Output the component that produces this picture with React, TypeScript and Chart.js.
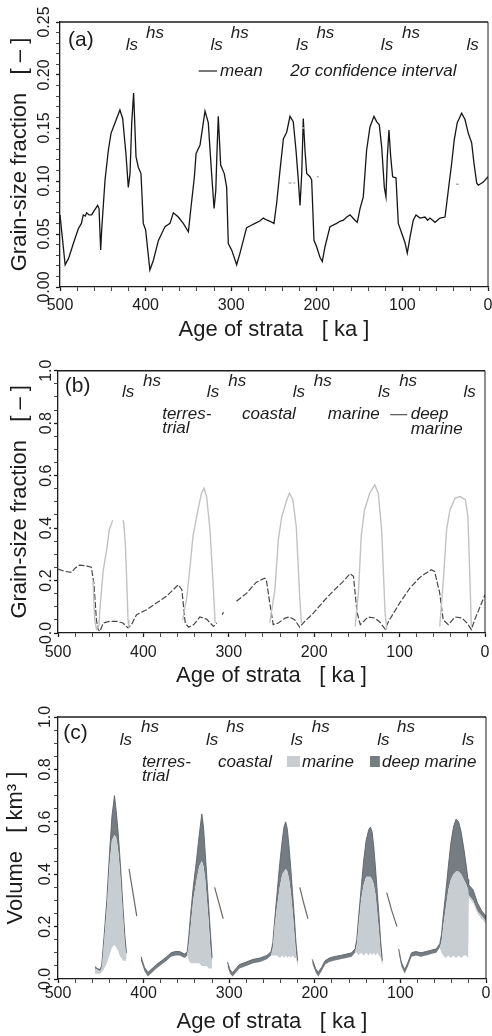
import React, { useEffect, useRef } from "react";
import { Chart, registerables } from "chart.js";

Chart.register(...registerables);

const FONT = '"Liberation Sans", Arial, Helvetica, sans-serif';
const INK = "#1c1c1c";
const LIGHT_FILL = "#c8cdd2";
const DARK_FILL = "#767d82";

// ---------------- Panel (a): grain-size fraction, mean ----------------
const aAges = [500, 494, 490, 484.4, 478.6, 475, 472.8, 470.5, 468.8, 466, 463, 460, 456, 454.4, 452.5, 451.3, 447.4, 443.5, 440.4, 435.7, 430, 426.8, 423, 420.2, 418.2, 416.2, 414, 411.2, 408.5, 405.4, 402.7, 400, 395, 391, 385, 377.3, 371.5, 367.6, 364.5, 361.8, 356, 350, 347, 343, 341, 336.4, 330.6, 326.8, 322.9, 320, 318, 316.8, 315.1, 312.3, 308.1, 305.3, 303.4, 299.5, 293.6, 289.7, 282, 277, 272.2, 267, 262.5, 258, 254.7, 250, 246.9, 243, 239, 235.2, 231.3, 227.5, 224.3, 221.6, 219.6, 217.6, 215.8, 213.8, 211.8, 208, 206, 203.3, 200.2, 196.3, 193.6, 190.4, 184.6, 176.8, 173, 169, 165, 161.2, 155.4, 152.7, 149.5, 145.7, 141.8, 137.9, 133.2, 130.1, 127, 124.2, 121.1, 119.2, 117.6, 115.7, 113.7, 111.4, 107.5, 104.8, 100.9, 97, 94.3, 91.1, 87.3, 84.1, 79.4, 73.6, 70.5, 67.8, 61.9, 56.1, 50.2, 46.4, 42.4, 39.4, 35.9, 30.8, 26.9, 23, 19.1, 16.4, 13.2, 11.3, 5.5, 0];
const aMean = [0.068, 0.021, 0.027, 0.041, 0.055, 0.06, 0.068, 0.067, 0.07, 0.068, 0.068, 0.072, 0.077, 0.074, 0.035, 0.054, 0.101, 0.129, 0.145, 0.155, 0.167, 0.159, 0.126, 0.094, 0.107, 0.155, 0.183, 0.123, 0.113, 0.107, 0.06, 0.054, 0.016, 0.025, 0.044, 0.057, 0.06, 0.07, 0.068, 0.066, 0.06, 0.052, 0.075, 0.104, 0.126, 0.134, 0.166, 0.155, 0.107, 0.074, 0.091, 0.123, 0.161, 0.115, 0.107, 0.094, 0.041, 0.035, 0.021, 0.032, 0.056, 0.058, 0.06, 0.062, 0.065, 0.063, 0.062, 0.06, 0.079, 0.11, 0.14, 0.146, 0.161, 0.156, 0.129, 0.101, 0.077, 0.107, 0.159, 0.129, 0.107, 0.104, 0.101, 0.044, 0.038, 0.028, 0.024, 0.038, 0.057, 0.06, 0.062, 0.063, 0.066, 0.068, 0.063, 0.061, 0.074, 0.085, 0.129, 0.151, 0.161, 0.156, 0.153, 0.132, 0.094, 0.085, 0.123, 0.148, 0.123, 0.104, 0.103, 0.06, 0.051, 0.042, 0.032, 0.047, 0.063, 0.068, 0.065, 0.066, 0.063, 0.065, 0.061, 0.065, 0.066, 0.091, 0.117, 0.139, 0.155, 0.164, 0.158, 0.145, 0.136, 0.117, 0.098, 0.096, 0.099, 0.104];
const aCiAges = [233, 225, 221, 217.5, 214, 210, 200, 197.5, 190, 37.4, 34];
const aCi = [0.098, 0.098, null, 0.15, 0.15, null, 0.104, 0.104, null, 0.097, 0.097];
const aLsAges = [416, 317, 217, 118, 18];
const aHsAges = [389, 290, 190, 90];

// ---------------- Panel (b): grain-size fraction per environment ----------------
const bDeepAges = [500, 492, 484, 480, 475, 467, 461, 458, 455, 453, 451, 447, 440, 430, 424, 418, 414, 408, 396, 385, 373, 361, 359, 355, 351, 347, 341, 334, 326, 318, 314, 311, 308, 306, 300, 291, 279, 268, 258, 256, 252, 248, 242, 234, 229, 223, 217, 213, 201, 189, 178, 166, 158, 154, 150, 146, 143, 137, 129, 123, 117, 113, 100, 88, 76, 63, 59, 53, 49, 43, 35, 27, 21, 16, 12, 0];
const bDeep = [0.244, 0.235, 0.231, 0.247, 0.259, 0.256, 0.251, 0.19, 0.05, 0.013, 0.006, 0.038, 0.044, 0.044, 0.038, 0.019, 0.032, 0.07, 0.089, 0.114, 0.14, 0.178, 0.184, 0.165, 0.038, 0.022, 0.032, 0.061, 0.053, 0.025, 0.038, null, 0.07, 0.079, null, 0.121, 0.152, 0.193, 0.209, 0.203, 0.114, 0.032, 0.038, 0.057, 0.061, 0.051, 0.022, 0.038, 0.076, 0.121, 0.159, 0.197, 0.226, 0.216, 0.082, 0.032, 0.041, 0.061, 0.057, 0.041, 0.015, 0.044, 0.114, 0.171, 0.213, 0.241, 0.235, 0.152, 0.051, 0.032, 0.061, 0.057, 0.038, 0.013, 0.051, 0.146];
const bMarineAges = [459, 457, 455, 452, 451, 447, 443, 440, 437, 436, 430, 424, 423, 421, 419, 418, 417, 390, 354, 349, 345, 342, 336, 332, 329, 326, 322, 318, 316, 290, 252, 246, 242, 238, 232, 229, 225, 221, 217, 215, 190, 152, 148, 145, 141, 135, 129, 125, 121, 117, 115, 90, 53, 49, 45, 41, 35, 29, 23, 20, 18, 16];
const bMarine = [0.2, 0.05, 0.015, 0.03, 0.089, 0.24, 0.317, 0.393, 0.42, 0.43, null, 0.43, 0.42, 0.33, 0.15, 0.05, 0.02, null, 0.05, 0.14, 0.266, 0.368, 0.47, 0.533, 0.552, 0.52, 0.393, 0.165, 0.038, null, 0.038, 0.165, 0.355, 0.444, 0.508, 0.533, 0.508, 0.406, 0.14, 0.038, null, 0.025, 0.165, 0.368, 0.47, 0.533, 0.565, 0.533, 0.393, 0.076, 0.013, null, 0.025, 0.19, 0.393, 0.47, 0.514, 0.52, 0.508, 0.444, 0.24, 0.025];
const bLsAges = [418, 318.5, 218, 118, 18];
const bHsAges = [390, 290, 190, 90];

// ---------------- Panel (c): volume (marine / deep marine) ----------------
const cAges = [
  457, 454, 451, 449, 446, 443, 440, 437, 434, 432, 430, 428, 426, 424, 422, 420, 412,
  403, 399, 395, 390, 385, 379, 373, 368, 363, 358, 352, 349,
  347, 345, 342, 338, 335, 332, 330, 328, 326, 324, 322, 320, 311,
  302, 299, 296, 292, 288, 280, 272, 264, 256, 251,
  249, 247, 244, 241, 238, 236, 234, 232, 230, 228, 226, 224, 222, 220, 212,
  203, 199, 196, 192, 188, 183, 178, 170, 163, 157, 153,
  151, 149, 146, 143, 140, 137, 135, 133, 131, 129, 127, 125, 123, 121, 110,
  102, 99, 95, 91, 87, 82, 76, 70, 64, 58, 54,
  52, 50, 47, 44, 41, 38, 35, 32, 29, 26, 23, 21, 20.5, 20, 15, 10, 5, 0,
];
const cLow = [
  0.02, 0.02, 0.02, 0.025, 0.04, 0.06, 0.09, 0.12, 0.13, 0.12, 0.11, 0.09, 0.08, 0.07, 0.07, 0.07, null,
  0.07, 0.03, 0.01, 0.025, 0.04, 0.055, 0.07, 0.085, 0.09, 0.09, 0.08, 0.09,
  0.07, 0.06, 0.06, 0.06, 0.06, 0.05, 0.05, 0.05, 0.05, 0.04, 0.04, 0.04, null,
  0.05, 0.02, 0.01, 0.025, 0.04, 0.05, 0.06, 0.065, 0.075, 0.09,
  0.09, 0.09, 0.09, 0.08, 0.09, 0.08, 0.09, 0.08, 0.09, 0.08, 0.09, 0.08, 0.08, 0.05, null,
  0.06, 0.025, 0.01, 0.03, 0.055, 0.065, 0.07, 0.075, 0.08, 0.085, 0.1,
  0.1, 0.09, 0.1, 0.09, 0.1, 0.09, 0.1, 0.09, 0.1, 0.09, 0.1, 0.09, 0.08, 0.05, null,
  0.1, 0.05, 0.02, 0.05, 0.085, 0.09, 0.085, 0.09, 0.095, 0.1, 0.12,
  0.1, 0.09, 0.08, 0.09, 0.08, 0.09, 0.08, 0.09, 0.08, 0.09, 0.09, 0.08, 0.08, 0.31, 0.29, 0.25, 0.23, 0.21,
];
const cMid = [
  0.04, 0.035, 0.03, 0.04, 0.15, 0.27, 0.43, 0.53, 0.55, 0.54, 0.5, 0.43, 0.34, 0.24, 0.14, 0.08, null,
  0.07, 0.03, 0.01, 0.025, 0.04, 0.055, 0.07, 0.085, 0.09, 0.09, 0.08, 0.09,
  0.14, 0.2, 0.3, 0.38, 0.43, 0.45, 0.43, 0.38, 0.3, 0.22, 0.12, 0.05, null,
  0.05, 0.02, 0.01, 0.025, 0.04, 0.05, 0.06, 0.065, 0.075, 0.09,
  0.12, 0.2, 0.28, 0.35, 0.4, 0.41, 0.42, 0.41, 0.38, 0.33, 0.26, 0.18, 0.1, 0.05, null,
  0.06, 0.025, 0.01, 0.03, 0.055, 0.065, 0.07, 0.075, 0.08, 0.085, 0.1,
  0.13, 0.2, 0.3, 0.36, 0.39, 0.39, 0.39, 0.38, 0.36, 0.32, 0.25, 0.18, 0.1, 0.05, null,
  0.1, 0.05, 0.02, 0.05, 0.085, 0.09, 0.085, 0.09, 0.095, 0.1, 0.12,
  0.14, 0.2, 0.27, 0.34, 0.38, 0.4, 0.41, 0.41, 0.4, 0.38, 0.36, 0.34, 0.33, 0.32, 0.3, 0.26, 0.24, 0.22,
];
const cTop = [
  0.048, 0.04, 0.036, 0.05, 0.17, 0.3, 0.47, 0.62, 0.7, 0.64, 0.57, 0.48, 0.38, 0.27, 0.17, 0.1, null,
  0.085, 0.045, 0.025, 0.04, 0.055, 0.07, 0.085, 0.1, 0.105, 0.105, 0.095, 0.105,
  0.17, 0.25, 0.35, 0.46, 0.55, 0.63, 0.58, 0.48, 0.38, 0.28, 0.18, 0.08, null,
  0.065, 0.035, 0.025, 0.04, 0.055, 0.065, 0.075, 0.08, 0.09, 0.105,
  0.14, 0.22, 0.33, 0.44, 0.53, 0.58, 0.6, 0.57, 0.5, 0.42, 0.33, 0.24, 0.14, 0.07, null,
  0.075, 0.04, 0.025, 0.045, 0.07, 0.08, 0.085, 0.09, 0.095, 0.1, 0.115,
  0.15, 0.23, 0.34, 0.45, 0.53, 0.57, 0.58, 0.56, 0.5, 0.42, 0.33, 0.24, 0.14, 0.07, null,
  0.115, 0.065, 0.035, 0.065, 0.1, 0.105, 0.1, 0.105, 0.11, 0.115, 0.135,
  0.17, 0.24, 0.33, 0.43, 0.52, 0.58, 0.61, 0.6, 0.56, 0.5, 0.43, 0.38, 0.37, 0.36, 0.34, 0.29, 0.26, 0.24,
];
const cLineAges = [417, 413, 408, 360, 317, 312, 307, 260, 217.5, 213, 208, 160, 116, 110, 104];
const cLine = [0.42, 0.34, 0.24, null, 0.35, 0.29, 0.23, null, 0.35, 0.29, 0.23, null, 0.33, 0.26, 0.2];
const cLsAges = [420.6, 320, 221, 120, 21];
const cHsAges = [392.5, 293, 193, 93.5];

const X_LABEL = "Age of strata   [ ka ]";

function pts(xs: number[], ys: (number | null)[]) {
  return xs.map((x, i) => ({ x, y: ys[i] }));
}

type Item =
  | { kind: "text"; text: string; age: number; dy: number; size: number; italic?: boolean; align?: CanvasTextAlign }
  | { kind: "line"; a1: number; a2: number; dy: number; color: string; width: number }
  | { kind: "box"; a1: number; a2: number; dy1: number; dy2: number; color: string };

function makeAnnot(items: Item[]) {
  return {
    id: "annot",
    afterDraw(chart: any) {
      const { ctx, chartArea } = chart;
      const xs = chart.scales.x;
      ctx.save();
      ctx.strokeStyle = INK;
      ctx.lineWidth = 1.6;
      ctx.beginPath();
      ctx.moveTo(chartArea.left, chartArea.top);
      ctx.lineTo(chartArea.right, chartArea.top);
      ctx.stroke();
      ctx.lineWidth = 1;
      ctx.beginPath();
      ctx.moveTo(chartArea.right, chartArea.top);
      ctx.lineTo(chartArea.right, chartArea.bottom);
      ctx.stroke();
      for (const it of items) {
        if (it.kind === "text") {
          ctx.font = `${it.italic ? "italic " : ""}${it.size}px ${FONT}`;
          ctx.fillStyle = INK;
          ctx.textAlign = it.align || "left";
          ctx.textBaseline = "middle";
          ctx.fillText(it.text, xs.getPixelForValue(it.age), chartArea.top + it.dy);
        } else if (it.kind === "line") {
          ctx.strokeStyle = it.color;
          ctx.lineWidth = it.width;
          ctx.beginPath();
          ctx.moveTo(xs.getPixelForValue(it.a1), chartArea.top + it.dy);
          ctx.lineTo(xs.getPixelForValue(it.a2), chartArea.top + it.dy);
          ctx.stroke();
        } else {
          const x1 = xs.getPixelForValue(it.a1);
          const x2 = xs.getPixelForValue(it.a2);
          ctx.fillStyle = it.color;
          ctx.fillRect(x1, chartArea.top + it.dy1, x2 - x1, it.dy2 - it.dy1);
        }
      }
      ctx.restore();
    },
  };
}

function lsHs(ls: number[], hs: number[], lsDy: number, hsDy: number): Item[] {
  return [
    ...ls.map((a) => ({ kind: "text" as const, text: "ls", age: a, dy: lsDy, size: 17, italic: true, align: "center" as CanvasTextAlign })),
    ...hs.map((a) => ({ kind: "text" as const, text: "hs", age: a, dy: hsDy, size: 17, italic: true, align: "center" as CanvasTextAlign })),
  ];
}

function xScale(height: number, tickPad: number, titlePadBottom: number) {
  return {
    type: "linear",
    min: 0,
    max: 500,
    reverse: true,
    afterFit: (s: any) => {
      s.height = height;
      s.paddingLeft = 0;
      s.paddingRight = 0;
    },
    ticks: {
      stepSize: 20,
      autoSkip: false,
      minRotation: 0,
      maxRotation: 0,
      padding: tickPad,
      color: INK,
      font: { family: FONT, size: 16 },
      callback: (v: number) => (Math.round(v) % 100 === 0 ? String(Math.round(v)) : ""),
    },
    grid: {
      drawOnChartArea: false,
      drawTicks: true,
      tickLength: 4,
      tickColor: INK,
      tickWidth: (c: any) => (c.tick && Math.round(c.tick.value) % 100 === 0 ? 1.3 : 0.8),
    },
    border: { display: true, color: INK, width: 1.3 },
    title: {
      display: true,
      text: X_LABEL,
      color: INK,
      font: { family: FONT, size: 22 },
      padding: { top: 0, bottom: titlePadBottom },
    },
  };
}

function yScale(opts: { max: number; step: number; major: number; dec: number; width: number; tickPad: number; title: string; titlePadTop: number }) {
  const { max, step, major, dec, width, tickPad, title, titlePadTop } = opts;
  const isMajor = (v: number) => Math.abs(v / major - Math.round(v / major)) < 1e-6;
  return {
    type: "linear",
    min: 0,
    max,
    afterFit: (s: any) => {
      s.width = width;
      s.paddingTop = 0;
      s.paddingBottom = 0;
    },
    ticks: {
      stepSize: step,
      autoSkip: false,
      minRotation: 90,
      maxRotation: 90,
      crossAlign: "center",
      padding: tickPad,
      color: INK,
      font: { family: FONT, size: 16 },
      callback: (v: number) => (isMajor(v) ? v.toFixed(dec) : ""),
    },
    grid: {
      drawOnChartArea: false,
      drawTicks: true,
      tickLength: 4,
      tickColor: INK,
      tickWidth: (c: any) => (c.tick && isMajor(c.tick.value) ? 1.3 : 0.8),
    },
    border: { display: true, color: INK, width: 1.3 },
    title: {
      display: true,
      text: title,
      color: INK,
      font: { family: FONT, size: 22 },
      padding: { top: titlePadTop, bottom: 0 },
    },
  };
}

const baseOptions = (padTop: number, padRight: number) => ({
  responsive: false,
  animation: false,
  events: [],
  layout: { padding: { top: padTop, right: padRight, left: 0, bottom: 0 }, autoPadding: false },
  plugins: { legend: { display: false }, tooltip: { enabled: false } },
  elements: { point: { radius: 0 }, line: { tension: 0 } },
});

function configA() {
  const items: Item[] = [
    { kind: "text", text: "(a)", age: 490.7, dy: 18, size: 21 },
    ...lsHs(aLsAges, aHsAges, 23, 11),
    { kind: "line", a1: 338, a2: 316.6, dy: 49, color: INK, width: 1.2 },
    { kind: "text", text: "mean", age: 313, dy: 49, size: 17, italic: true },
    { kind: "text", text: "2σ confidence interval", age: 231, dy: 49, size: 17, italic: true },
  ];
  return {
    type: "line",
    data: {
      datasets: [
        { label: "2σ confidence interval", data: pts(aCiAges, aCi), borderColor: "#b4b4b4", borderWidth: 1.5, borderDash: [3, 2], fill: false, pointRadius: 0, spanGaps: false },
        { label: "mean", data: pts(aAges, aMean), borderColor: "#161616", borderWidth: 1.3, fill: false, pointRadius: 0 },
      ],
    },
    options: {
      ...baseOptions(22, 4),
      scales: {
        x: xScale(58, 4.9, 1.8),
        y: yScale({ max: 0.25, step: 0.01, major: 0.05, dec: 2, width: 60, tickPad: -4.6, title: "Grain-size fraction   [ – ]", titlePadTop: 6.8 }),
      },
    },
    plugins: [makeAnnot(items)],
  };
}

function configB() {
  const items: Item[] = [
    { kind: "text", text: "(b)", age: 492, dy: 16, size: 21 },
    ...lsHs(bLsAges, bHsAges, 22, 11),
    { kind: "text", text: "terres-", age: 378, dy: 44, size: 17, italic: true },
    { kind: "text", text: "trial", age: 378, dy: 58, size: 17, italic: true },
    { kind: "text", text: "coastal", age: 284.5, dy: 44, size: 17, italic: true },
    { kind: "text", text: "marine", age: 184, dy: 44, size: 17, italic: true },
    { kind: "line", a1: 111, a2: 91, dy: 44, color: "#444", width: 1.1 },
    { kind: "text", text: "deep", age: 87, dy: 44, size: 17, italic: true },
    { kind: "text", text: "marine", age: 87, dy: 59, size: 17, italic: true },
  ];
  return {
    type: "line",
    data: {
      datasets: [
        { label: "marine", data: pts(bMarineAges, bMarine), borderColor: "#c2c2c2", borderWidth: 1.4, fill: false, pointRadius: 0, spanGaps: false },
        { label: "deep marine", data: pts(bDeepAges, bDeep), borderColor: "#464646", borderWidth: 1.2, borderDash: [6, 2], fill: false, pointRadius: 0, spanGaps: false },
      ],
    },
    options: {
      ...baseOptions(25.7, 7),
      scales: {
        x: xScale(57, 5.9, 0.8),
        y: yScale({ max: 1, step: 0.05, major: 0.2, dec: 1, width: 58, tickPad: -3.6, title: "Grain-size fraction   [ – ]", titlePadTop: 6.8 }),
      },
    },
    plugins: [makeAnnot(items)],
  };
}

function configC() {
  const items: Item[] = [
    { kind: "text", text: "(c)", age: 494, dy: 16, size: 21 },
    ...lsHs(cLsAges, cHsAges, 23, 10),
    { kind: "text", text: "terres-", age: 402, dy: 45, size: 17, italic: true },
    { kind: "text", text: "trial", age: 402, dy: 59, size: 17, italic: true },
    { kind: "text", text: "coastal", age: 313, dy: 45, size: 17, italic: true },
    { kind: "box", a1: 232.5, a2: 217.3, dy1: 39, dy2: 50, color: LIGHT_FILL },
    { kind: "text", text: "marine", age: 215, dy: 45, size: 17, italic: true },
    { kind: "box", a1: 135.5, a2: 124, dy1: 39, dy2: 50, color: DARK_FILL },
    { kind: "text", text: "deep marine", age: 121.5, dy: 45, size: 17, italic: true },
  ];
  return {
    type: "line",
    data: {
      datasets: [
        { label: "base", data: pts(cAges, cLow), borderColor: "rgba(0,0,0,0)", borderWidth: 0, fill: false, pointRadius: 0, spanGaps: false },
        { label: "marine", data: pts(cAges, cMid), borderColor: "rgba(0,0,0,0)", borderWidth: 0, backgroundColor: LIGHT_FILL, fill: "-1", pointRadius: 0, spanGaps: false },
        { label: "deep marine", data: pts(cAges, cTop), borderColor: "#5b6266", borderWidth: 0.9, backgroundColor: DARK_FILL, fill: "-1", pointRadius: 0, spanGaps: false },
        { label: "coastal", data: pts(cLineAges, cLine), borderColor: "#6a6a6a", borderWidth: 1.2, fill: false, pointRadius: 0, spanGaps: false },
      ],
    },
    options: {
      ...baseOptions(27, 6),
      scales: {
        x: xScale(57, 1.4, 0.8),
        y: yScale({ max: 1, step: 0.05, major: 0.2, dec: 1, width: 58, tickPad: -2.6, title: "Volume   [ km³ ]", titlePadTop: 2.8 }),
      },
    },
    plugins: [makeAnnot(items)],
  };
}

function ChartCanvas({ build, height }: { build: () => any; height: number }) {
  const ref = useRef<HTMLCanvasElement | null>(null);
  useEffect(() => {
    const chart = new Chart(ref.current as HTMLCanvasElement, build());
    return () => chart.destroy();
  }, []);
  return <canvas ref={ref} width={492} height={height} style={{ display: "block", width: 492, height }} />;
}

export default function App() {
  return (
    <div style={{ position: "absolute", left: 0, top: 0, width: 492, height: 1036, background: "#fff" }}>
      <ChartCanvas build={configA} height={345} />
      <ChartCanvas build={configB} height={345} />
      <ChartCanvas build={configC} height={346} />
    </div>
  );
}
